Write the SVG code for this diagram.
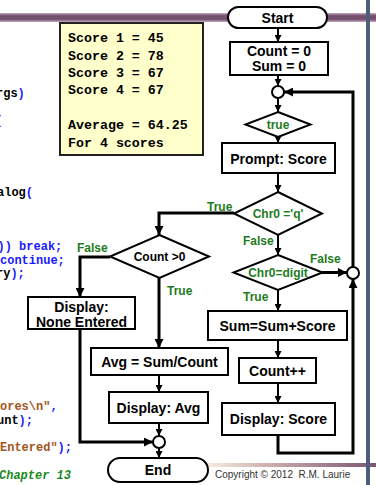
<svg xmlns="http://www.w3.org/2000/svg" width="376" height="485" viewBox="0 0 376 485">
<defs>
<linearGradient id="topbar" x1="0" y1="0" x2="0" y2="1">
<stop offset="0" stop-color="#c4aac0"/>
<stop offset="0.3" stop-color="#74506e"/>
<stop offset="0.7" stop-color="#74506e"/>
<stop offset="1" stop-color="#c4aac0"/>
</linearGradient>
<linearGradient id="botbar" x1="0" y1="0" x2="1" y2="0">
<stop offset="0" stop-color="#f4ece2"/>
<stop offset="0.4" stop-color="#c8a8a8"/>
<stop offset="1" stop-color="#7a5674"/>
</linearGradient>
<marker id="ah" viewBox="0 0 10 10" refX="10" refY="5" markerWidth="7" markerHeight="7" markerUnits="userSpaceOnUse" orient="auto"><path d="M0,0 L10,5 L0,10 z" fill="#000"/></marker>
<marker id="ahb" viewBox="0 0 10 10" refX="10" refY="5" markerWidth="10" markerHeight="9" markerUnits="userSpaceOnUse" orient="auto"><path d="M0,0 L10,5 L0,10 z" fill="#000"/></marker>
</defs>
<style>
.box{fill:#fff;stroke:#000;stroke-width:2}
.t{font-family:"Liberation Sans",Arial,sans-serif;font-weight:bold;font-size:14px;fill:#000;text-anchor:middle}
.g{font-family:"Liberation Sans",Arial,sans-serif;font-weight:bold;font-size:12px;fill:#1e7b1e}
.gm{text-anchor:middle}
.c{font-family:"Liberation Mono","Courier New",monospace;font-weight:bold;font-size:12px;fill:#000;white-space:pre}
.k{fill:#1a1aff}
.s{fill:#a3541e}
.cm{fill:#1e8a1e;font-style:italic}
.y{font-family:"Liberation Mono","Courier New",monospace;font-weight:bold;font-size:13.3px;fill:#000;white-space:pre}
.ln{fill:none;stroke:#000;stroke-width:2}
.lb{fill:none;stroke:#000;stroke-width:3}
</style>
<rect width="376" height="485" fill="#fff"/>
<rect x="0" y="13" width="376" height="9" fill="url(#topbar)"/>
<rect x="208" y="463" width="168" height="4" fill="url(#botbar)"/>
<rect x="366" y="0" width="4" height="485" fill="#4d5e7a"/>
<g id="code">
<text class="c" x="-4" y="97">rgs<tspan class="k">)</tspan></text>
<text class="c k" x="-5.5" y="124">{</text>
<text class="c" x="-3" y="196">alog<tspan class="k">(</tspan></text>
<text class="c k" x="-2.5" y="250">)) break;</text>
<text class="c k" x="0" y="263.5">continue;</text>
<text class="c" x="-4" y="277">ry<tspan class="k">);</tspan></text>
<text class="c s" x="0" y="410">ores\n"<tspan class="k">,</tspan></text>
<text class="c" x="-3" y="423.5">unt<tspan class="k">);</tspan></text>
<text class="c s" x="0" y="451">Entered"<tspan class="k">);</tspan></text>
<text class="c cm" x="-1" y="479">Chapter 13</text>
</g>
<g id="output">
<rect x="60" y="23" width="143" height="132" fill="#ffffcc" stroke="#222" stroke-width="2"/>
<text class="y" x="68" y="42">Score 1 = 45</text>
<text class="y" x="68" y="59.5">Score 2 = 78</text>
<text class="y" x="68" y="77">Score 3 = 67</text>
<text class="y" x="68" y="94">Score 4 = 67</text>
<text class="y" x="68" y="129">Average = 64.25</text>
<text class="y" x="68" y="146.5">For 4 scores</text>
</g>
<g id="connectors">
<line class="ln" x1="278" y1="28" x2="278" y2="42" marker-end="url(#ah)"/>
<line class="ln" x1="278" y1="75" x2="278" y2="86" marker-end="url(#ah)"/>
<line class="ln" x1="278" y1="98" x2="278" y2="112" marker-end="url(#ah)"/>
<line class="ln" x1="278" y1="137" x2="278" y2="143" marker-end="url(#ah)"/>
<line class="ln" x1="278" y1="173" x2="278" y2="192" marker-end="url(#ah)"/>
<line class="ln" x1="278" y1="235" x2="278" y2="255" marker-end="url(#ah)"/>
<line class="ln" x1="278" y1="290" x2="278" y2="311" marker-end="url(#ah)"/>
<line class="ln" x1="278" y1="340" x2="278" y2="358" marker-end="url(#ah)"/>
<line class="ln" x1="278" y1="383" x2="278" y2="403" marker-end="url(#ah)"/>
<polyline class="lb" points="278,435 278,453 353,453 353,279" marker-end="url(#ahb)"/>
<polyline class="lb" points="353,267 353,92 284,92" marker-end="url(#ahb)"/>
<line class="lb" x1="322" y1="272.5" x2="347" y2="272.5" marker-end="url(#ahb)"/>
<polyline class="lb" points="234,213 159,213 159,235" marker-end="url(#ahb)"/>
<polyline class="lb" points="110,257 80,257 80,297" marker-end="url(#ahb)"/>
<line class="lb" x1="159" y1="278" x2="159" y2="348" marker-end="url(#ahb)"/>
<polyline class="lb" points="80,329 80,442 153,442" marker-end="url(#ahb)"/>
<line class="ln" x1="159" y1="375" x2="159" y2="392" marker-end="url(#ah)"/>
<line class="ln" x1="159" y1="423" x2="159" y2="436" marker-end="url(#ah)"/>
<line class="ln" x1="159" y1="448" x2="159" y2="458" marker-end="url(#ah)"/>
</g>
<g id="labels">
<text class="g" x="207" y="211">True</text>
<text class="g" x="243" y="245">False</text>
<text class="g" x="310" y="263">False</text>
<text class="g" x="243" y="301">True</text>
<text class="g" x="77" y="252">False</text>
<text class="g" x="167" y="295">True</text>
</g>
<g id="start">
<rect class="box" x="228" y="7" width="99" height="21" rx="10.5"/>
<text class="t" x="277.5" y="22.5">Start</text>
</g>
<g id="init">
<rect class="box" x="230" y="42" width="98" height="33"/>
<text class="t" x="279" y="56">Count = 0</text>
<text class="t" x="279" y="71">Sum = 0</text>
</g>
<g id="join1">
<circle class="box" cx="278" cy="92" r="6"/>
</g>
<g id="whileTrue">
<polygon class="box" points="278,112 310.5,124.5 278,137 245.5,124.5"/>
<text class="g gm" x="278" y="129">true</text>
</g>
<g id="prompt">
<rect class="box" x="222" y="143" width="113" height="30"/>
<text class="t" x="278.5" y="163.5">Prompt: Score</text>
</g>
<g id="isQ">
<polygon class="box" points="278,192 322,213.5 278,235 234,213.5"/>
<text class="g gm" x="278" y="218">Chr0 ='q'</text>
</g>
<g id="isDigit">
<polygon class="box" points="278,255 322.5,272.5 278,290 233.5,272.5"/>
<text class="g gm" x="278" y="277">Chr0=digit</text>
</g>
<g id="join2">
<circle class="box" cx="353" cy="273" r="6"/>
</g>
<g id="sum">
<rect class="box" x="208" y="311" width="139" height="29"/>
<text class="t" x="277.5" y="330.5">Sum=Sum+Score</text>
</g>
<g id="countInc">
<rect class="box" x="239" y="358" width="77" height="25"/>
<text class="t" x="277.5" y="375.5">Count++</text>
</g>
<g id="displayScore">
<rect class="box" x="222" y="403" width="113" height="32"/>
<text class="t" x="278.5" y="424">Display: Score</text>
</g>
<g id="countCheck">
<polygon class="box" points="159.5,235 209,256.5 159.5,278 110,256.5"/>
<text class="t" x="159.5" y="261" style="font-size:12px">Count &gt;0</text>
</g>
<g id="noneEntered">
<rect class="box" x="28" y="297" width="107" height="32"/>
<text class="t" x="81.5" y="312">Display:</text>
<text class="t" x="81.5" y="326.5">None Entered</text>
</g>
<g id="avg">
<rect class="box" x="91" y="348" width="137" height="27"/>
<text class="t" x="159.5" y="366.5">Avg = Sum/Count</text>
</g>
<g id="displayAvg">
<rect class="box" x="109" y="392" width="99" height="31"/>
<text class="t" x="158.5" y="412.5">Display: Avg</text>
</g>
<g id="join3">
<circle class="box" cx="159" cy="442" r="6"/>
</g>
<g id="end">
<rect class="box" x="108" y="458" width="100" height="24" rx="12"/>
<text class="t" x="158" y="475">End</text>
</g>
<text x="215" y="478" style="font-family:'Liberation Sans',Arial,sans-serif;font-size:10px;fill:#333;white-space:pre">Copyright © 2012  R.M. Laurie</text>
</svg>
